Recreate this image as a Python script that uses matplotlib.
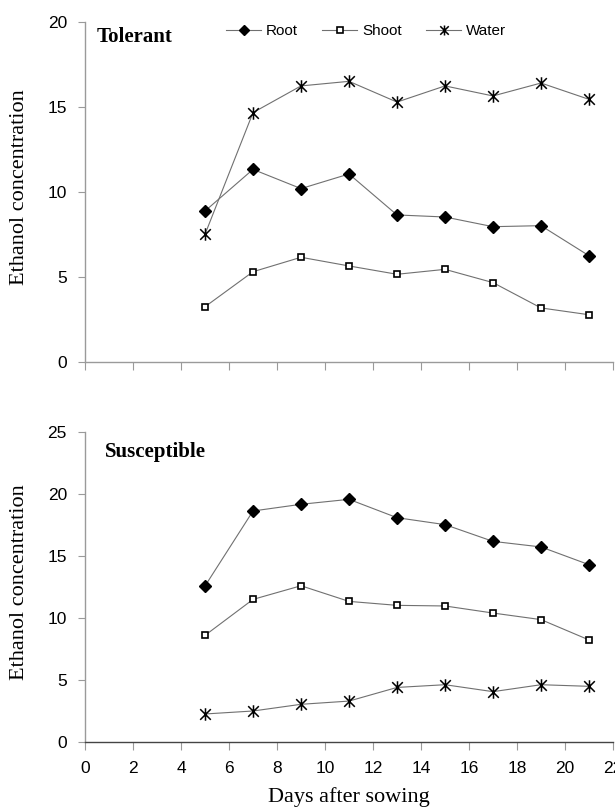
import numpy as np
import matplotlib
matplotlib.use("Agg")
from matplotlib import pyplot as plt
from matplotlib.path import Path

# days after sowing
days = [5, 7, 9, 11, 13, 15, 17, 19, 21]

# tolerant
tol_root = [8.88, 11.33, 10.2, 11.06, 8.65, 8.53, 7.96, 8.02, 6.25]
tol_shoot = [3.25, 5.31, 6.16, 5.65, 5.16, 5.45, 4.67, 3.18, 2.78]
tol_water = [7.51, 14.67, 16.24, 16.51, 15.29, 16.24, 15.65, 16.41, 15.45]

# susceptible
sus_root = [12.58, 18.63, 19.17, 19.57, 18.09, 17.53, 16.18, 15.73, 14.30]
sus_shoot = [8.6, 11.5, 12.6, 11.34, 11.02, 10.97, 10.4, 9.87, 8.23]
sus_water = [2.26, 2.5, 3.04, 3.3, 4.4, 4.62, 4.06, 4.62, 4.49]

xticks = list(range(0, 23, 2))

SANS = "Liberation Sans"
SERIF = "Liberation Serif"

# X with a vertical bar, like the excel asterisk
star = Path([(0, -1), (0, 1), (-0.85, -0.85), (0.85, 0.85), (-0.85, 0.85), (0.85, -0.85)],
            [Path.MOVETO, Path.LINETO, Path.MOVETO, Path.LINETO, Path.MOVETO, Path.LINETO])


def series(ax, root, shoot, water):
    kw = dict(color="#707070", lw=0.8)
    ax.plot(days, root, marker="D", ms=5.8, mfc="black", mec="black", label="Root", **kw)
    ax.plot(days, shoot, marker="s", ms=5, mfc="white", mec="black", mew=1.2, label="Shoot", **kw)
    ax.plot(days, water, marker=star, ms=9, mfc="none", mec="black", mew=1.1, label="Water", **kw)


def style(ax, ymax, step, bottom_color, labels):
    ax.set_xlim(0, 22)
    ax.set_ylim(0, ymax)
    ax.set_xticks(xticks)
    ax.set_yticks(np.arange(0, ymax + 1, step))
    for s in ("top", "right"):
        ax.spines[s].set_visible(False)
    ax.spines["left"].set_color("#9a9a9a")
    ax.spines["bottom"].set_color(bottom_color)
    ax.spines["left"].set_linewidth(1.0)
    ax.spines["bottom"].set_linewidth(1.0)
    ax.tick_params(axis="y", direction="out", length=5, color="#9a9a9a", pad=8, labelsize=12.5)
    ax.tick_params(axis="x", direction="out", length=6, color="#9a9a9a", pad=8, labelsize=12.5,
                   labelbottom=labels)
    for t in ax.get_xticklabels() + ax.get_yticklabels():
        t.set_fontfamily(SANS)


fig = plt.figure(figsize=(6.15, 8.1), dpi=100)

ax1 = fig.add_axes([85 / 615, 1 - 362 / 810, 528 / 615, 340 / 810])
series(ax1, tol_root, tol_shoot, tol_water)
style(ax1, 20, 5, "#9a9a9a", False)

ax2 = fig.add_axes([85 / 615, 1 - 742 / 810, 528 / 615, 310 / 810])
series(ax2, sus_root, sus_shoot, sus_water)
style(ax2, 25, 5, "#444444", True)

fig.text(97 / 615, 1 - 37 / 810, "Tolerant", family=SERIF, weight="bold", fontsize=15, va="center")
fig.text(105 / 615, 1 - 452 / 810, "Susceptible", family=SERIF, weight="bold", fontsize=15, va="center")

fig.text(20 / 615, 1 - 187 / 810, "Ethanol concentration", family=SERIF, fontsize=16,
         rotation=90, ha="center", va="center")
fig.text(20 / 615, 1 - 582 / 810, "Ethanol concentration", family=SERIF, fontsize=16,
         rotation=90, ha="center", va="center")
fig.text(349 / 615, 1 - 797 / 810, "Days after sowing", family=SERIF, fontsize=16,
         ha="center", va="center")

leg = ax1.legend(loc="center left", bbox_to_anchor=(226 / 615, 1 - 31 / 810),
                 bbox_transform=fig.transFigure, ncol=3, frameon=False,
                 prop={"family": SANS, "size": 11}, handlelength=2.3, handletextpad=0.3,
                 columnspacing=1.6, borderpad=0, borderaxespad=0, markerscale=0.8)

fig.savefig("out.png", dpi=100)
